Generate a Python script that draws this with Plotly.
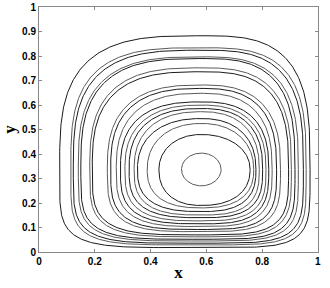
import numpy as np
import plotly.graph_objects as go

# streamline extents, outermost to innermost
left = [0.074, 0.114, 0.123, 0.141, 0.150, 0.182, 0.191, 0.245, 0.257,
        0.277, 0.292, 0.308, 0.323, 0.341, 0.353, 0.388, 0.430, 0.511]
right = [0.972, 0.958, 0.948, 0.930, 0.918, 0.905, 0.895, 0.866, 0.852,
         0.836, 0.824, 0.814, 0.802, 0.790, 0.778, 0.770, 0.757, 0.653]
bottom = [0.018, 0.029, 0.036, 0.045, 0.052, 0.062, 0.070, 0.083, 0.092,
          0.104, 0.115, 0.127, 0.140, 0.151, 0.165, 0.180, 0.190, 0.270]
top = [0.883, 0.834, 0.824, 0.797, 0.790, 0.752, 0.736, 0.682, 0.668,
       0.648, 0.613, 0.600, 0.586, 0.573, 0.545, 0.525, 0.480, 0.404]
# corner squareness of each streamline (upper and lower halves)
square_top = [3.2, 3.2, 3.1, 3.0, 3.0, 2.9, 2.9, 2.7, 2.7,
              2.6, 2.6, 2.5, 2.5, 2.4, 2.3, 2.2, 2.1, 2.0]
square_bottom = [5.0, 4.8, 4.6, 4.4, 4.3, 4.0, 3.9, 3.6, 3.5,
                 3.3, 3.2, 3.1, 3.0, 2.9, 2.7, 2.5, 2.3, 2.0]

x_ticks = [0, 0.2, 0.4, 0.6, 0.8, 1]
y_ticks = [0, 0.1, 0.2, 0.3, 0.4, 0.5, 0.6, 0.7, 0.8, 0.9, 1]

cx = (left[-1] + right[-1]) / 2
cy = (bottom[-1] + top[-1]) / 2
t = np.linspace(0, 2 * np.pi, 400)
c, s = np.cos(t), np.sin(t)

fig = go.Figure()
for i in range(len(left)):
    n = np.where(s >= 0, square_top[i], square_bottom[i])
    a = np.where(c >= 0, right[i] - cx, cx - left[i])
    b = np.where(s >= 0, top[i] - cy, cy - bottom[i])
    xs = cx + a * np.sign(c) * np.abs(c) ** (2 / n)
    ys = cy + b * np.sign(s) * np.abs(s) ** (2 / n)
    color = "#1a1a1a" if i % 2 == 0 else "#5a5a5a"
    fig.add_trace(go.Scatter(x=xs, y=ys, mode="lines",
                             line=dict(color=color, width=1),
                             hoverinfo="skip", showlegend=False))

axis_style = dict(
    range=[0, 1.0005],
    showgrid=False,
    zeroline=False,
    showline=True,
    linecolor="#888888",
    linewidth=1,
    mirror="ticks",
    ticks="inside",
    ticklen=3,
    tickcolor="#888888",
    automargin=False,
    ticklabeloverflow="allow",
    tickfont=dict(family="Liberation Sans", size=10, color="black", weight="bold"),
)

fig.update_layout(
    width=330,
    height=288,
    margin=dict(l=39, r=12, t=7, b=36),
    plot_bgcolor="white",
    paper_bgcolor="white",
    xaxis=dict(axis_style, tickvals=x_ticks, ticktext=[f"{v:g}" for v in x_ticks],
               title=dict(text="x", standoff=0,
                          font=dict(family="Liberation Serif", size=17, color="black", weight="bold"))),
    yaxis=dict(axis_style, tickvals=y_ticks, ticktext=[f"{v:g}" for v in y_ticks],
               title=dict(text="y", standoff=2,
                          font=dict(family="Liberation Serif", size=17, color="black", weight="bold"))),
)

# drop the browser's default page margin so the figure fills the window
fig.write_html("out.html", config={"displayModeBar": False},
               post_script="document.body.style.margin = '0';")
